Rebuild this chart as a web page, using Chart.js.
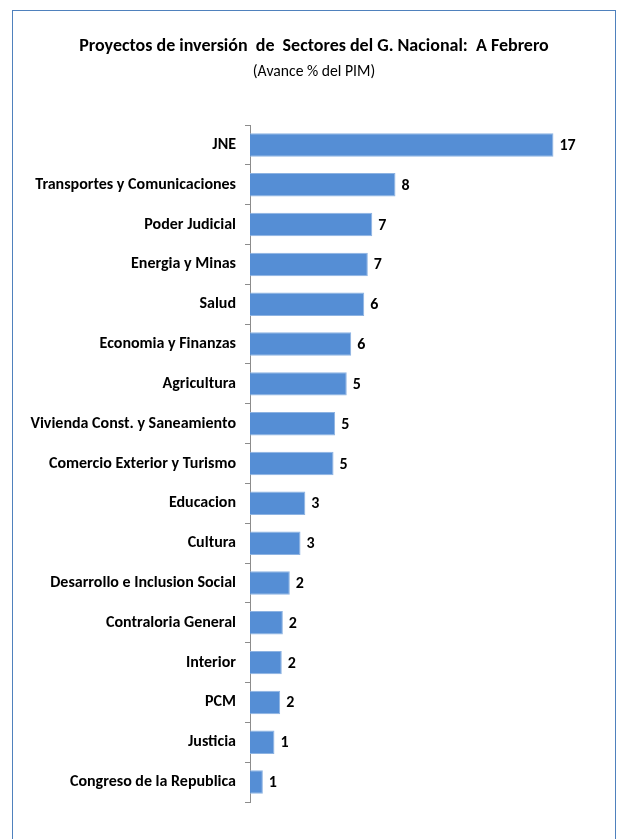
<!DOCTYPE html>
<html>
<head>
<meta charset="utf-8">
<script src="https://cdn.jsdelivr.net/npm/chart.js@4.4.0/dist/chart.umd.min.js"></script>
<style>
body { margin: 0; background: #fff; }
#marco { position: absolute; left: 12px; top: 10px; width: 602px; height: 900px; border: 1px solid #4f81bd; }
#grafico { position: absolute; left: 0; top: 0; }
</style>
</head>
<body>
<div id="marco"></div>
<canvas id="grafico" width="619" height="839"></canvas>
<script>
const sectores = [
    'JNE',
    'Transportes y Comunicaciones',
    'Poder Judicial',
    'Energia y Minas',
    'Salud',
    'Economia y Finanzas',
    'Agricultura',
    'Vivienda Const. y Saneamiento',
    'Comercio Exterior y Turismo',
    'Educacion',
    'Cultura',
    'Desarrollo e Inclusion Social',
    'Contraloria General',
    'Interior',
    'PCM',
    'Justicia',
    'Congreso de la Republica'
];
const avance = [17.0, 8.15, 6.85, 6.6, 6.4, 5.67, 5.42, 4.77, 4.68, 3.1, 2.83, 2.23, 1.84, 1.78, 1.69, 1.37, 0.72];
const titulo = 'Proyectos de inversión  de  Sectores del G. Nacional:  A Febrero';
const subtitulo = '(Avance % del PIM)';

const fuente = "Carlito, Calibri, 'Liberation Sans', sans-serif";

// dibuja el valor redondeado al final de cada barra
const etiquetasValor = {
    id: 'etiquetasValor',
    afterDatasetsDraw(chart) {
        const ctx = chart.ctx;
        const meta = chart.getDatasetMeta(0);
        ctx.save();
        ctx.font = 'bold 16px ' + fuente;
        ctx.fillStyle = '#000';
        ctx.textBaseline = 'middle';
        meta.data.forEach((barra, i) => {
            ctx.fillText(Math.round(avance[i]), barra.x + 6, barra.y + 1);
        });
        ctx.restore();
    }
};

const ctx = document.getElementById('grafico').getContext('2d');
new Chart(ctx, {
    type: 'bar',
    data: {
        labels: sectores,
        datasets: [{
            data: avance,
            backgroundColor: '#558ed5',
            borderColor: '#8db3e2',
            borderWidth: 1,
            categoryPercentage: 1,
            barPercentage: 0.59
        }]
    },
    plugins: [etiquetasValor],
    options: {
        indexAxis: 'y',
        responsive: false,
        animation: false,
        layout: { padding: { top: 10, left: 21, right: 12, bottom: 37 } },
        plugins: {
            legend: { display: false },
            tooltip: { enabled: false },
            title: {
                display: true,
                text: titulo,
                color: '#000',
                font: { family: fuente, size: 18, weight: 'bold' },
                padding: { top: 26, bottom: 5 }
            },
            subtitle: {
                display: true,
                text: subtitulo,
                color: '#000',
                font: { family: fuente, size: 15.7 },
                padding: { top: 0, bottom: 43.6 }
            }
        },
        scales: {
            x: { display: false, min: 0, max: 20 },
            y: {
                grid: { drawOnChartArea: false, drawTicks: true, tickLength: 5, color: '#8c8c8c', offset: true },
                border: { display: true, color: '#8c8c8c', width: 1 },
                ticks: { color: '#000', autoSkip: false, padding: 9, font: { family: fuente, size: 16, weight: 'bold' } },
                afterFit(scale) { scale.width = 229; }
            }
        }
    }
});
</script>
</body>
</html>
